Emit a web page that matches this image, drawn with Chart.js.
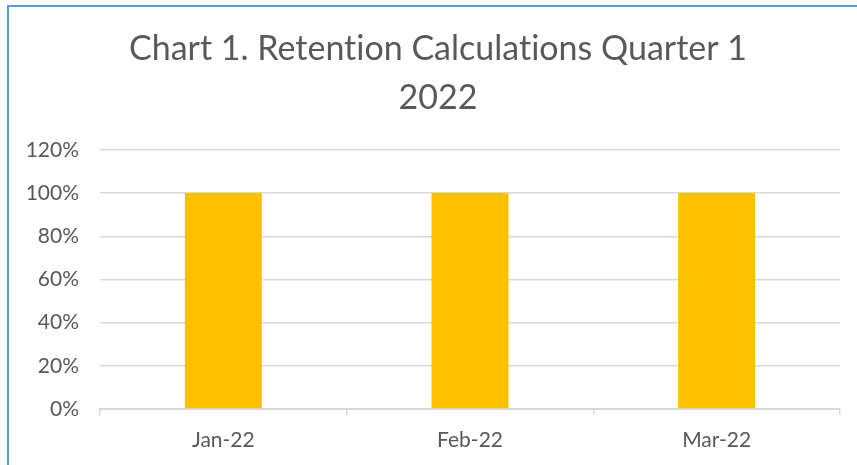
<!DOCTYPE html>
<html>
<head>
<meta charset="utf-8">
<script src="https://cdn.jsdelivr.net/npm/chart.js@4.4.0/dist/chart.umd.min.js"></script>
<style>
  html, body { margin: 0; padding: 0; background: #ffffff; }
  #wrap { position: absolute; left: 0; top: 0; width: 857px; height: 465px; }
  #frame { position: absolute; left: 7px; top: 5px; width: 860px; height: 470px;
           border-left: 2px solid #5B9BD5; border-top: 2px solid #5B9BD5; pointer-events: none; }
</style>
</head>
<body>
<div id="wrap"><canvas id="c" width="857" height="465"></canvas></div>
<div id="frame"></div>
<script>
const titleLines = ["Chart 1. Retention Calculations Quarter 1", "2022"];
const categories = ["Jan-22", "Feb-22", "Mar-22"];
const retention = [1.00, 1.00, 1.00];
const yMin = 0, yMax = 1.2, yStep = 0.2;

const textColor = "#595959";
const fontFamily = "Lato, 'Open Sans', sans-serif";

const noLigatures = {
  id: "noLigatures",
  beforeDraw(chart) {
    try { chart.ctx.textRendering = "optimizeSpeed"; } catch (e) {}
  }
};

new Chart(document.getElementById("c"), {
  type: "bar",
  data: {
    labels: categories,
    datasets: [{
      label: "Retention",
      data: retention,
      backgroundColor: "#FFC000",
      borderWidth: 0,
      barPercentage: 0.312,
      categoryPercentage: 1.0
    }]
  },
  plugins: [noLigatures],
  options: {
    responsive: false,
    animation: false,
    devicePixelRatio: 1,
    layout: { padding: { left: 36, right: 17, top: 0, bottom: 0 } },
    plugins: {
      legend: { display: false },
      tooltip: { enabled: false },
      title: {
        display: true,
        text: titleLines,
        color: textColor,
        font: { family: fontFamily, size: 34, weight: "normal", lineHeight: 1.44 },
        padding: { top: 25, bottom: 27 }
      }
    },
    scales: {
      x: {
        grid: { display: true, drawOnChartArea: false, drawTicks: true, tickLength: 6, color: "#D9D9D9", lineWidth: 1.5 },
        border: { display: true, color: "#D9D9D9", width: 2 },
        ticks: { color: textColor, font: { family: fontFamily, size: 21 }, padding: 12.4, maxRotation: 0 }
      },
      y: {
        min: yMin, max: yMax,
        afterFit: (s) => { s.width = 64; s._computeLabelArea = () => undefined; },
        grid: { color: "#D9D9D9", lineWidth: 1.5, drawTicks: true, tickLength: 21, tickColor: "rgba(0,0,0,0)" },
        border: { display: false },
        ticks: {
          stepSize: yStep,
          color: textColor,
          font: { family: fontFamily, size: 21 },
          padding: 0,
          callback: (v) => Math.round(v * 100) + "%"
        }
      }
    }
  }
});
</script>
</body>
</html>
